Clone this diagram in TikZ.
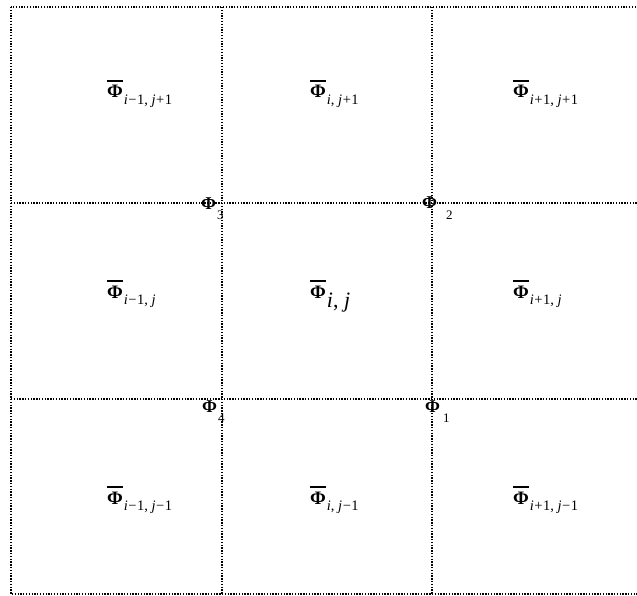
\documentclass[tikz,border=0pt]{standalone}
\usepackage{fontspec}
\setmainfont{Liberation Serif}
\usetikzlibrary{positioning}
\tikzstyle{gridline} = [line width=1.1pt, dash pattern=on 1.3pt off 1.5pt]
\tikzstyle{cellval}  = [anchor=base west, inner sep=0pt, font=\fontsize{19}{19}\selectfont]
\tikzstyle{cornerval} = [anchor=base west, inner sep=0pt, font=\fontsize{18}{18}\selectfont]
\newcommand{\barphi}{\vbox{\hrule height 1.6pt\kern 3.5pt\hbox{\bfseries Φ}}}
\newcommand{\cellsub}[1]{\kern1pt\raisebox{-6.5pt}{\fontsize{14.5}{14.5}\selectfont #1}}
\newcommand{\bigsub}[1]{\kern1pt\raisebox{-9pt}{\fontsize{22}{22}\selectfont #1}}
\newcommand{\iidx}{\textit{i}}
\newcommand{\jidx}{\textit{j}}
\newcommand{\opm}{\kern0.5pt−\kern0.5pt}
\newcommand{\opp}{\kern0.5pt+\kern0.5pt}
\newcommand{\cornersub}[3]{\kern#1\raisebox{#2}{\fontsize{13}{13}\selectfont\mdseries #3}}

\begin{document}
\begin{tikzpicture}[x=1pt, y=-1pt]
    \useasboundingbox (0,0) rectangle (637,596);
    % grid
    \draw[gridline] (11,7) rectangle (638,594);
    \draw[gridline] (222,7) -- (222,594);
    \draw[gridline] (432,7) -- (432,594);
    \draw[gridline] (11,203) -- (638,203);
    \draw[gridline] (11,399) -- (638,399);
    % cell averages
    \node (c13) [cellval] at (107,98) {\barphi\cellsub{\iidx\opm1, \jidx\opp1}};
    \node (c23) [cellval] at (310,98) {\barphi\cellsub{\iidx, \jidx\opp1}};
    \node (c33) [cellval] at (513,98) {\barphi\cellsub{\iidx\opp1, \jidx\opp1}};
    \node (c12) [cellval] at (107,298) {\barphi\cellsub{\iidx\opm1, \jidx}};
    \node (c22) [cellval] at (310,298) {\barphi\bigsub{\iidx, \jidx}};
    \node (c32) [cellval] at (513,298) {\barphi\cellsub{\iidx\opp1, \jidx}};
    \node (c11) [cellval] at (107,504) {\barphi\cellsub{\iidx\opm1, \jidx\opm1}};
    \node (c21) [cellval] at (310,504) {\barphi\cellsub{\iidx, \jidx\opm1}};
    \node (c31) [cellval] at (513,504) {\barphi\cellsub{\iidx\opp1, \jidx\opm1}};
    % corner values
    \node (p1) [cornerval] at (425,412) {\bfseries Φ\cornersub{3pt}{-10pt}{1}};
    \node (p2) [cornerval] at (422,208) {\bfseries Φ\cornersub{9pt}{-12pt}{2}};
    \node (p3) [cornerval] at (201,210) {\bfseries Φ\cornersub{1pt}{-10pt}{3}};
    \node (p4) [cornerval] at (202,412) {\bfseries Φ\cornersub{1pt}{-10pt}{4}};
\end{tikzpicture}
\end{document}
